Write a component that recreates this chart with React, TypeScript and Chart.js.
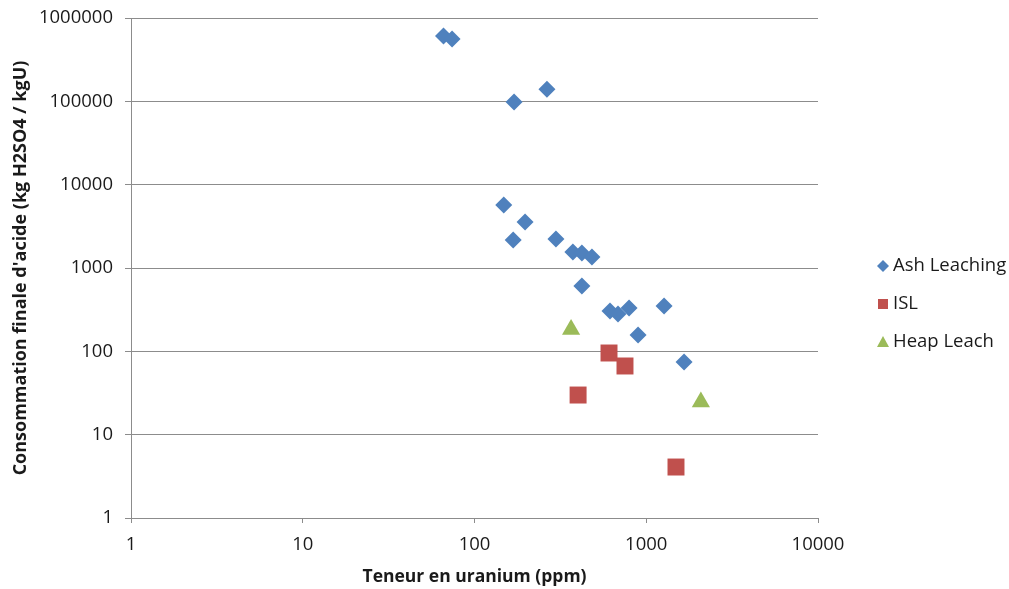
import React, { useEffect, useRef } from "react";
import { Chart, registerables } from "chart.js";

Chart.register(...registerables);

const seriesNames = ["Ash Leaching", "ISL", "Heap Leach"];
const seriesColors = ["#4F81BD", "#C0504D", "#9BBB59"];

const ashX = [66, 74, 170, 264, 148, 197, 168, 298, 374, 422, 483, 422, 615, 685, 794, 1270, 896, 1660];
const ashY = [608000, 560000, 98000, 140000, 5700, 3560, 2170, 2230, 1560, 1510, 1355, 608, 305, 280, 331, 350, 157, 74.5];

const islX = [607, 752, 401, 1490];
const islY = [95.5, 66.7, 29.9, 4.09];

const heapX = [365, 2080];
const heapY = [183, 24.7];

const xTicks = [1, 10, 100, 1000, 10000];
const yTicks = [1, 10, 100, 1000, 10000, 100000, 1000000];

const xTitle = "Teneur en uranium (ppm)";
const yTitle = "Consommation finale d'acide (kg H2SO4 / kgU)";

const FONT = "'Open Sans', 'Liberation Sans', sans-serif";
const GRID = "#8C8C8C";
const TEXT = "#1a1a1a";

function pts(xs: number[], ys: number[]) {
  return xs.map((x, i) => ({ x, y: ys[i] }));
}

const legendPlugin = {
  id: "customLegend",
  afterDraw(chart: any) {
    const ctx = chart.ctx;
    const xs = 883;
    const ys = [266, 304, 342];
    ctx.save();
    ctx.font = `18.5px ${FONT}`;
    ctx.textBaseline = "middle";
    ctx.textAlign = "left";
    seriesNames.forEach((name, i) => {
      const y = ys[i];
      ctx.fillStyle = seriesColors[i];
      ctx.beginPath();
      if (i === 0) {
        ctx.moveTo(xs, y - 6);
        ctx.lineTo(xs + 6, y);
        ctx.lineTo(xs, y + 6);
        ctx.lineTo(xs - 6, y);
      } else if (i === 1) {
        ctx.rect(xs - 5, y - 5, 10, 10);
      } else {
        ctx.moveTo(xs, y - 6);
        ctx.lineTo(xs + 6, y + 5);
        ctx.lineTo(xs - 6, y + 5);
      }
      ctx.closePath();
      ctx.fill();
      ctx.fillStyle = TEXT;
      ctx.fillText(name, xs + 10, y);
    });
    ctx.restore();
  },
};

export default function App() {
  const ref = useRef<HTMLCanvasElement>(null);

  useEffect(() => {
    if (!ref.current) return;
    const chart = new Chart(ref.current, {
      type: "scatter",
      data: {
        datasets: [
          {
            label: seriesNames[0],
            data: pts(ashX, ashY),
            pointStyle: "rectRot",
            pointRadius: 8.5,
            backgroundColor: seriesColors[0],
            borderColor: seriesColors[0],
            borderWidth: 0,
          },
          {
            label: seriesNames[1],
            data: pts(islX, islY),
            pointStyle: "rect",
            pointRadius: 12,
            backgroundColor: seriesColors[1],
            borderColor: seriesColors[1],
            borderWidth: 0,
          },
          {
            label: seriesNames[2],
            data: pts(heapX, heapY),
            pointStyle: "triangle",
            pointRadius: 10.5,
            backgroundColor: seriesColors[2],
            borderColor: seriesColors[2],
            borderWidth: 0,
          },
        ],
      },
      options: {
        responsive: false,
        animation: false,
        layout: { padding: { left: 0, top: 18, right: 191, bottom: 0 } },
        plugins: {
          legend: { display: false },
          tooltip: { enabled: false },
        },
        scales: {
          x: {
            type: "logarithmic",
            min: 1,
            max: 10000,
            afterBuildTicks: (scale: any) => {
              scale.ticks = xTicks.map((v) => ({ value: v }));
            },
            afterFit: (scale: any) => {
              scale.height = 71;
              scale.paddingLeft = 0;
              scale.paddingRight = 0;
            },
            ticks: {
              autoSkip: false,
              maxRotation: 0,
              padding: 11,
              color: TEXT,
              font: { family: FONT, size: 18.5 },
              callback: (v: any) => String(v),
            },
            grid: {
              drawOnChartArea: false,
              drawTicks: true,
              tickLength: 5,
              color: GRID,
            },
            border: { display: true, color: GRID },
            title: {
              display: true,
              text: xTitle,
              color: TEXT,
              font: { family: FONT, size: 17.5, weight: "bold" },
              padding: { top: 0, bottom: 1 },
            },
          },
          y: {
            type: "logarithmic",
            min: 1,
            max: 1000000,
            afterBuildTicks: (scale: any) => {
              scale.ticks = yTicks.map((v) => ({ value: v }));
            },
            afterFit: (scale: any) => {
              scale.width = 131;
              scale.paddingTop = 0;
              scale.paddingBottom = 0;
            },
            ticks: {
              autoSkip: false,
              padding: 12,
              color: TEXT,
              font: { family: FONT, size: 18.5 },
              callback: (v: any) => String(v),
            },
            grid: {
              drawOnChartArea: true,
              drawTicks: true,
              tickLength: 6,
              color: GRID,
            },
            border: { display: true, color: GRID },
            title: {
              display: true,
              text: yTitle,
              color: TEXT,
              font: { family: FONT, size: 18, weight: "bold" },
              padding: { top: 10, bottom: 0 },
            },
          },
        },
      },
      plugins: [legendPlugin],
    });
    return () => chart.destroy();
  }, []);

  return (
    <div style={{ position: "absolute", left: 0, top: 0, width: 1009, height: 589, background: "#fff" }}>
      <canvas ref={ref} width={1009} height={589} />
    </div>
  );
}
